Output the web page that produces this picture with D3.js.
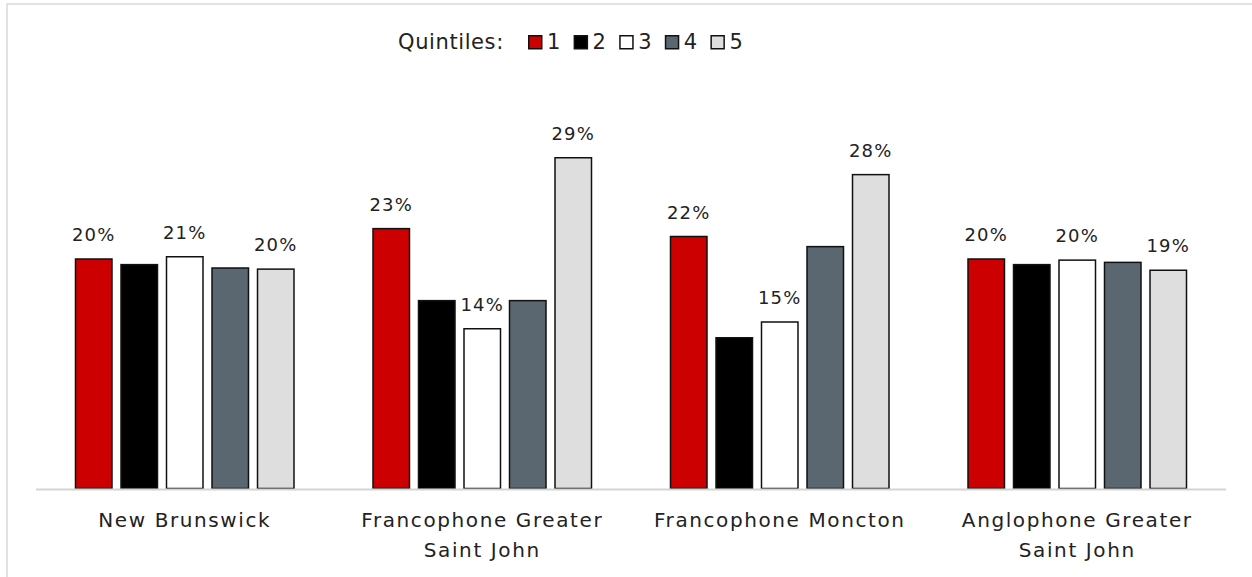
<!DOCTYPE html>
<html>
<head>
<meta charset="utf-8">
<script src="https://cdn.jsdelivr.net/npm/d3@7"></script>
<style>
  body { margin: 0; background: #fff; }
  text { font-family: "DejaVu Sans", sans-serif; fill: #222; }
</style>
</head>
<body>
<svg id="chart" width="1252" height="577"></svg>
<script>

var categories = [
    ['New Brunswick'],
    ['Francophone Greater', 'Saint John'],
    ['Francophone Moncton'],
    ['Anglophone Greater', 'Saint John']
];

var quintiles = ['1', '2', '3', '4', '5'];

// share of people per income quintile, in percent
var q1 = [20.4, 23.1, 22.4, 20.4];
var q2 = [19.9, 16.7, 13.4, 19.9];
var q3 = [20.6, 14.2, 14.8, 20.3];
var q4 = [19.6, 16.7, 21.5, 20.1];
var q5 = [19.5, 29.4, 27.9, 19.4];

var labelled = ['1', '3', '5'];

var colors = {
    '1': '#cc0000',
    '2': '#000000',
    '3': '#ffffff',
    '4': '#5b6770',
    '5': '#dedede'
};

var series = [q1, q2, q3, q4, q5];

var svg = d3.select('#chart');

// light frame, only top and left edges show
svg.append('path')
    .attr('d', 'M7,577 V4 H1252')
    .attr('fill', 'none')
    .attr('stroke', '#d9d9d9')
    .attr('stroke-width', 1.5);

var x0 = d3.scaleBand()
    .domain(d3.range(categories.length))
    .range([36, 1226]);

var x1 = d3.scaleBand()
    .domain(quintiles)
    .range([0, x0.bandwidth()])
    .paddingInner(0.198)
    .paddingOuter(0.868);

var y = d3.scaleLinear()
    .domain([0, 30])
    .range([488.5, 488.5 - 337.5]);

var rows = [];
categories.forEach(function(c, i) {
    quintiles.forEach(function(q, j) {
        rows.push({ cat: i, q: q, value: series[j][i] });
    });
});

var bars = svg.append('g');

bars.selectAll('rect')
    .data(rows)
    .enter()
    .append('rect')
    .attr('x', function(d) { return x0(d.cat) + x1(d.q); })
    .attr('y', function(d) { return y(d.value); })
    .attr('width', x1.bandwidth())
    .attr('height', function(d) { return y(0) - y(d.value); })
    .attr('fill', function(d) { return colors[d.q]; })
    .attr('stroke', '#111')
    .attr('stroke-width', 1.5);

bars.selectAll('text')
    .data(rows.filter(function(d) { return labelled.indexOf(d.q) >= 0; }))
    .enter()
    .append('text')
    .attr('x', function(d) { return x0(d.cat) + x1(d.q) + x1.bandwidth() / 2; })
    .attr('y', function(d) { return y(d.value) - 18; })
    .attr('text-anchor', 'middle')
    .style('font-size', '18px')
    .style('letter-spacing', '1.2px')
    .text(function(d) { return Math.round(d.value) + '%'; });

// axis line
svg.append('line')
    .attr('x1', x0.range()[0])
    .attr('x2', x0.range()[1])
    .attr('y1', 489.5)
    .attr('y2', 489.5)
    .attr('stroke', '#d4d4d4')
    .attr('stroke-width', 2);

var catLabels = svg.append('g')
    .selectAll('text')
    .data(categories)
    .enter()
    .append('text')
    .attr('text-anchor', 'middle')
    .attr('transform', function(d, i) {
        return 'translate(' + (x0(i) + x0.bandwidth() / 2) + ',527)';
    })
    .style('font-size', '20px')
    .style('letter-spacing', '1.6px');

catLabels.selectAll('tspan')
    .data(function(d) { return d; })
    .enter()
    .append('tspan')
    .attr('x', 0)
    .attr('dy', function(d, i) { return i === 0 ? 0 : 30; })
    .text(function(d) { return d; });

// legend
var legend = svg.append('g');

legend.append('text')
    .attr('x', 398)
    .attr('y', 49)
    .style('font-size', '21px')
    .style('letter-spacing', '0.6px')
    .text('Quintiles:');

var item = legend.selectAll('g.item')
    .data(quintiles)
    .enter()
    .append('g')
    .attr('class', 'item')
    .attr('transform', function(d, i) { return 'translate(' + (528 + i * 45.6) + ',0)'; });

item.append('rect')
    .attr('x', 0.75)
    .attr('y', 35.75)
    .attr('width', 13)
    .attr('height', 13)
    .attr('fill', function(d) { return colors[d]; })
    .attr('stroke', '#111')
    .attr('stroke-width', 1.5);

item.append('text')
    .attr('x', 19)
    .attr('y', 49)
    .style('font-size', '21px')
    .text(function(d) { return d; });

</script>
</body>
</html>
